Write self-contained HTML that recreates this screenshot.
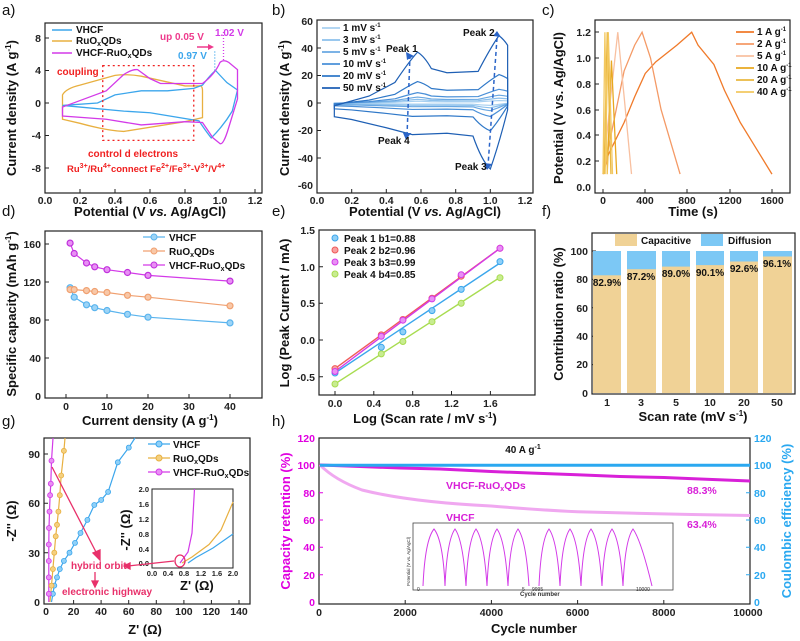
<!DOCTYPE html>
<html><head><meta charset="utf-8"><style>
body{margin:0;background:#fff}
svg{display:block;font-family:"Liberation Sans",Arial,sans-serif}
.t{font-size:10.5px;font-weight:bold;fill:#222}
.lab{font-size:13px;font-weight:bold;fill:#111}
.L{font-size:15px;fill:#111}
.lg{font-size:10px;font-weight:bold;fill:#111}
.box{fill:none;stroke:#222;stroke-width:1.2}
.ns{vector-effect:non-scaling-stroke;fill:none}
</style></head><body>
<svg width="800" height="641" viewBox="0 0 800 641">
<text class="L" x="2" y="15">a)</text><text class="L" x="272" y="15">b)</text><text class="L" x="542" y="15">c)</text>
<text class="L" x="2" y="216">d)</text><text class="L" x="272" y="216">e)</text><text class="L" x="542" y="216">f)</text>
<text class="L" x="2" y="426">g)</text><text class="L" x="272" y="426">h)</text>

<!-- ============ a ============ -->
<rect class="box" x="45" y="23" width="217" height="170"/>
<g stroke="#222" stroke-width="1">
<path d="M45 38h4M45 70.5h4M45 103h4M45 135.5h4M45 168h4M80 193v-4M115 193v-4M150 193v-4M185 193v-4M220 193v-4M255 193v-4"/></g>
<g class="t" text-anchor="end"><text x="41" y="42">8</text><text x="41" y="74">4</text><text x="41" y="107">0</text><text x="41" y="139">-4</text><text x="41" y="172">-8</text></g>
<g class="t" text-anchor="middle"><text x="45" y="204">0.0</text><text x="80" y="204">0.2</text><text x="115" y="204">0.4</text><text x="150" y="204">0.6</text><text x="185" y="204">0.8</text><text x="220" y="204">1.0</text><text x="255" y="204">1.2</text></g>
<text class="lab" x="150" y="216" text-anchor="middle">Potential (V <tspan font-style="italic">vs.</tspan> Ag/AgCl)</text>
<text class="lab" transform="translate(16,108) rotate(-90)" text-anchor="middle">Current density (A g<tspan dy="-5" font-size="8">-1</tspan><tspan dy="5">)</tspan></text>
<g transform="translate(45,103) scale(175,-8.125)" stroke-width="1.3">
<path class="ns" stroke="#e8b040" d="M0.1 -2 L0.1 1 Q0.12 1.8 0.2 2.2 L0.4 3.4 Q0.47 3.6 0.55 3.3 L0.8 2.1 L0.88 2.1 Q0.9 2.2 0.9 1.5 L0.9 -1.8 L0.8 -2.3 L0.45 -3.5 Q0.35 -3.4 0.2 -2.5 Z"/>
<path class="ns" stroke="#3ba6ec" d="M0.1 -0.3 L0.3 0 L0.4 1 L0.55 1.5 L0.7 1.5 L0.85 1.8 L0.9 2.2 Q0.95 3.6 0.975 4 Q1.0 3.4 1.04 2.5 L1.1 1.6 L1.07 -1 Q1.02 -2.8 0.95 -4.3 Q0.92 -3.5 0.88 -2.2 L0.6 -1.2 L0.45 -1.0 L0.2 -0.5 Z"/>
<path class="ns" stroke="#d33ae8" d="M0.1 -1.6 L0.1 -0.5 L0.2 0.3 L0.35 1.5 L0.45 3.5 Q0.5 4.2 0.53 4.1 L0.6 3 L0.66 2.4 L0.9 2.4 Q0.97 3.5 1.0 5 Q1.02 5.4 1.05 5 L1.1 4.1 L1.1 0.5 L1.05 -3 Q1.02 -5.2 1.0 -5 L0.96 -4.3 L0.9 -2.4 L0.8 -2.3 L0.55 -2.7 L0.35 -2 Z"/>
<path class="ns" stroke="#f02020" stroke-width="1.3" stroke-dasharray="2,3" d="M0.33 4.6 L0.85 4.6 L0.85 -4.6 L0.33 -4.6 Z"/>
<path class="ns" stroke="#3ba6ec" stroke-dasharray="1,2" d="M0.97 4 V6.5"/>
<path class="ns" stroke="#d33ae8" stroke-dasharray="1,2" d="M1.02 5.3 V9"/>
</g>
<path d="M197 47 L208 47" stroke="#ee3a8c" stroke-width="1.5"/><path d="M208 44 L214 47 L208 50Z" fill="#ee3a8c"/>
<g class="lg"><path d="M52 30h20" stroke="#3ba6ec" stroke-width="1.5"/><text x="76" y="33">VHCF</text>
<path d="M52 41h20" stroke="#e8b040" stroke-width="1.5"/><text x="76" y="44">RuO<tspan font-size="7" dy="2">x</tspan><tspan dy="-2">QDs</tspan></text>
<path d="M52 53h20" stroke="#d33ae8" stroke-width="1.5"/><text x="76" y="56">VHCF-RuO<tspan font-size="7" dy="2">x</tspan><tspan dy="-2">QDs</tspan></text></g>
<g font-size="10" font-weight="bold"><text x="160" y="40" fill="#ee3a8c">up 0.05 V</text><text x="215" y="36" fill="#d33ae8">1.02 V</text><text x="178" y="59" fill="#3ba6ec">0.97 V</text>
<text x="57" y="75" fill="#f02020">coupling</text><text x="88" y="157" fill="#f02020">control  d electrons</text>
<text x="67" y="172" fill="#f02020" font-size="9.5">Ru<tspan font-size="7" dy="-4">3+</tspan><tspan dy="4">/Ru</tspan><tspan font-size="7" dy="-4">4+</tspan><tspan dy="4">connect Fe</tspan><tspan font-size="7" dy="-4">2+</tspan><tspan dy="4">/Fe</tspan><tspan font-size="7" dy="-4">3+</tspan><tspan dy="4">-V</tspan><tspan font-size="7" dy="-4">3+</tspan><tspan dy="4">/V</tspan><tspan font-size="7" dy="-4">4+</tspan></text></g>

<!-- ============ b ============ -->
<rect class="box" x="317" y="20" width="216" height="173"/>
<g stroke="#222"><path d="M317 48h4M317 75.5h4M317 103h4M317 130.5h4M317 158h4M351.7 193v-4M386.3 193v-4M421 193v-4M455.7 193v-4M490.3 193v-4"/></g>
<g class="t" text-anchor="end"><text x="313" y="25">60</text><text x="313" y="52">40</text><text x="313" y="79">20</text><text x="313" y="107">0</text><text x="313" y="134">-20</text><text x="313" y="162">-40</text><text x="313" y="189">-60</text></g>
<g class="t" text-anchor="middle"><text x="317" y="204">0.0</text><text x="351.7" y="204">0.2</text><text x="386.3" y="204">0.4</text><text x="421" y="204">0.6</text><text x="455.7" y="204">0.8</text><text x="490.3" y="204">1.0</text><text x="525" y="204">1.2</text></g>
<text class="lab" x="425" y="216" text-anchor="middle">Potential (V <tspan font-style="italic">vs.</tspan> Ag/AgCl)</text>
<text class="lab" transform="translate(289,108) rotate(-90)" text-anchor="middle">Current density (A g<tspan dy="-5" font-size="8">-1</tspan><tspan dy="5">)</tspan></text>
<g stroke-width="1.2">
<g transform="translate(317,103) scale(173.3,-0.05)"><path class="ns" stroke="#a8d0f0" d="M0.1 -10 L0.1 -2 L0.3 5 L0.45 15 Q0.53 30 0.58 37 Q0.62 34 0.66 25 L0.75 22 L0.93 23 Q1.0 40 1.05 49 Q1.08 46 1.1 42 L1.1 -5 Q1.05 -30 1.0 -48 Q0.95 -42 0.9 -24 L0.75 -22 L0.55 -23 L0.4 -18 L0.2 -12 Z"/></g>
<g transform="translate(317,103) scale(173.3,-0.1)"><path class="ns" stroke="#8cc0ec" d="M0.1 -10 L0.1 -2 L0.3 5 L0.45 15 Q0.53 30 0.58 37 Q0.62 34 0.66 25 L0.75 22 L0.93 23 Q1.0 40 1.05 49 Q1.08 46 1.1 42 L1.1 -5 Q1.05 -30 1.0 -48 Q0.95 -42 0.9 -24 L0.75 -22 L0.55 -23 L0.4 -18 L0.2 -12 Z"/></g>
<g transform="translate(317,103) scale(173.3,-0.16)"><path class="ns" stroke="#6aa8e2" d="M0.1 -10 L0.1 -2 L0.3 5 L0.45 15 Q0.53 30 0.58 37 Q0.62 34 0.66 25 L0.75 22 L0.93 23 Q1.0 40 1.05 49 Q1.08 46 1.1 42 L1.1 -5 Q1.05 -30 1.0 -48 Q0.95 -42 0.9 -24 L0.75 -22 L0.55 -23 L0.4 -18 L0.2 -12 Z"/></g>
<g transform="translate(317,103) scale(173.3,-0.28)"><path class="ns" stroke="#4a90d8" d="M0.1 -10 L0.1 -2 L0.3 5 L0.45 15 Q0.53 30 0.58 37 Q0.62 34 0.66 25 L0.75 22 L0.93 23 Q1.0 40 1.05 49 Q1.08 46 1.1 42 L1.1 -5 Q1.05 -30 1.0 -48 Q0.95 -42 0.9 -24 L0.75 -22 L0.55 -23 L0.4 -18 L0.2 -12 Z"/></g>
<g transform="translate(317,103) scale(173.3,-0.58)"><path class="ns" stroke="#2f78c8" d="M0.1 -10 L0.1 -2 L0.3 5 L0.45 15 Q0.53 30 0.58 37 Q0.62 34 0.66 25 L0.75 22 L0.93 23 Q1.0 40 1.05 49 Q1.08 46 1.1 42 L1.1 -5 Q1.05 -30 1.0 -48 Q0.95 -42 0.9 -24 L0.75 -22 L0.55 -23 L0.4 -18 L0.2 -12 Z"/></g>
<g transform="translate(317,103) scale(173.3,-1.375)"><path class="ns" stroke="#1e5fb4" d="M0.1 -10 L0.1 -2 L0.3 5 L0.45 15 Q0.53 30 0.58 37 Q0.62 34 0.66 25 L0.75 22 L0.93 23 Q1.0 40 1.05 49 Q1.08 46 1.1 42 L1.1 -5 Q1.05 -30 1.0 -48 Q0.95 -42 0.9 -24 L0.75 -22 L0.55 -23 L0.4 -18 L0.2 -12 Z"/></g>
</g>
<g stroke="#2a64c8" stroke-width="1.5" stroke-dasharray="4,3" fill="none"><path d="M410 55 L407 136"/><path d="M497 38 L488 166"/></g>
<g fill="#2a64c8"><path d="M406 52 L414 56 L407 60Z"/><path d="M403 133 L411 133 L406 140Z"/><path d="M493 36 L501 37 L497 31Z"/><path d="M484 163 L492 164 L487 170Z"/></g>
<g class="lg" font-size="9.5"><text x="386" y="52">Peak 1</text><text x="463" y="36">Peak 2</text><text x="378" y="144">Peak 4</text><text x="455" y="170">Peak 3</text></g>
<g class="lg" font-size="9"><g stroke-width="1.8"><path d="M322 28h18" stroke="#a8d0f0"/><path d="M322 40h18" stroke="#8cc0ec"/><path d="M322 52h18" stroke="#6aa8e2"/><path d="M322 64h18" stroke="#4a90d8"/><path d="M322 76h18" stroke="#2f78c8"/><path d="M322 88h18" stroke="#1e5fb4"/></g>
<text x="343" y="31">1 mV s<tspan font-size="6" dy="-4">-1</tspan></text><text x="343" y="43">3 mV s<tspan font-size="6" dy="-4">-1</tspan></text><text x="343" y="55">5 mV s<tspan font-size="6" dy="-4">-1</tspan></text><text x="343" y="67">10 mV s<tspan font-size="6" dy="-4">-1</tspan></text><text x="343" y="79">20 mV s<tspan font-size="6" dy="-4">-1</tspan></text><text x="343" y="91">50 mV s<tspan font-size="6" dy="-4">-1</tspan></text></g>

<!-- ============ c ============ -->
<rect class="box" x="595" y="20" width="195" height="173"/>
<g stroke="#222"><path d="M595 161h4M595 135h4M595 110h4M595 84h4M595 58h4M595 32h4M603 193v-4M645 193v-4M687 193v-4M730 193v-4M772 193v-4"/></g>
<g class="t" text-anchor="end"><text x="591" y="191">0.0</text><text x="591" y="165">0.2</text><text x="591" y="139">0.4</text><text x="591" y="114">0.6</text><text x="591" y="88">0.8</text><text x="591" y="62">1.0</text><text x="591" y="36">1.2</text></g>
<g class="t" text-anchor="middle"><text x="603" y="204">0</text><text x="645" y="204">400</text><text x="687" y="204">800</text><text x="730" y="204">1200</text><text x="772" y="204">1600</text></g>
<text class="lab" x="693" y="216" text-anchor="middle">Time (s)</text>
<text class="lab" transform="translate(563,108) rotate(-90)" text-anchor="middle">Potential (V vs. Ag/AgCl)</text>
<g transform="translate(603,187) scale(0.1056,-129)" stroke-width="1.3">
<path class="ns" stroke="#f07a2a" d="M0 0.1 L50 0.25 L200 0.5 L300 0.7 L400 0.88 L500 0.97 L700 1.1 L840 1.2 L900 1.1 L1050 0.95 L1150 0.75 L1300 0.5 L1450 0.3 L1600 0.1"/>
<path class="ns" stroke="#f49a66" d="M0 0.1 L100 0.5 L200 0.9 L300 1.1 L370 1.2 L450 1.0 L550 0.6 L730 0.1"/>
<path class="ns" stroke="#f8c0a0" d="M0 0.1 L60 0.6 L140 1.2 L200 0.7 L270 0.1"/>
<path class="ns" stroke="#e8a820" d="M40 0.1 L80 0.98 L130 0.1"/>
<path class="ns" stroke="#eab840" d="M10 0.1 L40 1.2 L75 0.1"/>
<path class="ns" stroke="#f3c860" d="M0 0.1 L18 1.2 L40 0.1 M20 0.1 L50 1.2 L90 0.1"/>
</g>
<g class="lg" font-size="9"><g stroke-width="1.8"><path d="M736 32h18" stroke="#f07a2a"/><path d="M736 44h18" stroke="#f49a66"/><path d="M736 56h18" stroke="#f8c0a0"/><path d="M736 68h18" stroke="#e8a820"/><path d="M736 80h18" stroke="#eab840"/><path d="M736 92h18" stroke="#f3c860"/></g>
<text x="757" y="35">1 A g<tspan font-size="6" dy="-4">-1</tspan></text><text x="757" y="47">2 A g<tspan font-size="6" dy="-4">-1</tspan></text><text x="757" y="59">5 A g<tspan font-size="6" dy="-4">-1</tspan></text><text x="757" y="71">10 A g<tspan font-size="6" dy="-4">-1</tspan></text><text x="757" y="83">20 A g<tspan font-size="6" dy="-4">-1</tspan></text><text x="757" y="95">40 A g<tspan font-size="6" dy="-4">-1</tspan></text></g>

<!-- ============ d ============ -->
<rect class="box" x="45" y="231" width="217" height="167"/>
<g stroke="#222"><path d="M45 358h4M45 320h4M45 282h4M45 244h4M66 398v-4M107 398v-4M148 398v-4M189 398v-4M230 398v-4"/></g>
<g class="t" text-anchor="end"><text x="41" y="400">0</text><text x="41" y="362">40</text><text x="41" y="324">80</text><text x="41" y="286">120</text><text x="41" y="248">160</text></g>
<g class="t" text-anchor="middle"><text x="66" y="410">0</text><text x="107" y="410">10</text><text x="148" y="410">20</text><text x="189" y="410">30</text><text x="230" y="410">40</text></g>
<text class="lab" x="150" y="425" text-anchor="middle">Current density (A g<tspan dy="-5" font-size="8">-1</tspan><tspan dy="5">)</tspan></text>
<text class="lab" transform="translate(16,314) rotate(-90)" text-anchor="middle">Specific capacity (mAh g<tspan dy="-5" font-size="8">-1</tspan><tspan dy="5">)</tspan></text>
<g stroke-width="1.2">
<polyline fill="none" stroke="#5ab4ee" points="70.1,287.7 74.2,297.2 86.5,304.8 94.7,307.7 107,310.5 127.5,314.3 148,317.2 230,322.9"/>
<polyline fill="none" stroke="#f0a070" points="70.1,289.6 74.2,289.6 86.5,290.6 94.7,291.5 107,292.5 127.5,295.3 148,297.2 230,305.8"/>
<polyline fill="none" stroke="#d33ae8" points="70.1,243.1 74.2,253.5 86.5,263 94.7,266.8 107,269.7 127.5,272.5 148,275.4 230,281.1"/>
<g fill="#9dd4f6" stroke="#5ab4ee"><circle cx="70.1" cy="287.7" r="3"/><circle cx="74.2" cy="297.2" r="3"/><circle cx="86.5" cy="304.8" r="3"/><circle cx="94.7" cy="307.7" r="3"/><circle cx="107" cy="310.5" r="3"/><circle cx="127.5" cy="314.3" r="3"/><circle cx="148" cy="317.2" r="3"/><circle cx="230" cy="322.9" r="3"/></g>
<g fill="#f8c8a8" stroke="#f0a070"><circle cx="70.1" cy="289.6" r="3"/><circle cx="74.2" cy="289.6" r="3"/><circle cx="86.5" cy="290.6" r="3"/><circle cx="94.7" cy="291.5" r="3"/><circle cx="107" cy="292.5" r="3"/><circle cx="127.5" cy="295.3" r="3"/><circle cx="148" cy="297.2" r="3"/><circle cx="230" cy="305.8" r="3"/></g>
<g fill="#e890f4" stroke="#c030dc"><circle cx="70.1" cy="243.1" r="3"/><circle cx="74.2" cy="253.5" r="3"/><circle cx="86.5" cy="263" r="3"/><circle cx="94.7" cy="266.8" r="3"/><circle cx="107" cy="269.7" r="3"/><circle cx="127.5" cy="272.5" r="3"/><circle cx="148" cy="275.4" r="3"/><circle cx="230" cy="281.1" r="3"/></g>
</g>
<g class="lg"><path d="M143 237h22" stroke="#5ab4ee" stroke-width="1.3"/><circle cx="154" cy="237" r="3" fill="#9dd4f6" stroke="#5ab4ee"/><text x="169" y="241">VHCF</text>
<path d="M143 251h22" stroke="#f0a070" stroke-width="1.3"/><circle cx="154" cy="251" r="3" fill="#f8c8a8" stroke="#f0a070"/><text x="169" y="255">RuO<tspan font-size="7" dy="2">x</tspan><tspan dy="-2">QDs</tspan></text>
<path d="M143 265h22" stroke="#d33ae8" stroke-width="1.3"/><circle cx="154" cy="265" r="3" fill="#e890f4" stroke="#c030dc"/><text x="169" y="269">VHCF-RuO<tspan font-size="7" dy="2">x</tspan><tspan dy="-2">QDs</tspan></text></g>

<!-- ============ e ============ -->
<rect class="box" x="319" y="230" width="216" height="165"/>
<g stroke="#222"><path d="M319 266.7h4M319 303.3h4M319 340h4M319 376.7h4M335 395v-4M373.8 395v-4M412.7 395v-4M451.5 395v-4M490.4 395v-4"/></g>
<g class="t" text-anchor="end"><text x="315" y="234">1.5</text><text x="315" y="271">1.0</text><text x="315" y="307">0.5</text><text x="315" y="344">0.0</text><text x="315" y="381">-0.5</text></g>
<g class="t" text-anchor="middle"><text x="335" y="407">0.0</text><text x="373.8" y="407">0.4</text><text x="412.7" y="407">0.8</text><text x="451.5" y="407">1.2</text><text x="490.4" y="407">1.6</text></g>
<text class="lab" x="425" y="423" text-anchor="middle">Log (Scan rate / mV s<tspan dy="-5" font-size="8">-1</tspan><tspan dy="5">)</tspan></text>
<text class="lab" transform="translate(289,313) rotate(-90)" text-anchor="middle">Log (Peak Current / mA)</text>
<g stroke-width="1.4">
<path d="M335 373 L500 263" stroke="#3ba6ec"/>
<path d="M335 368.6 L500 248.3" stroke="#f05a5a"/>
<path d="M335 371.5 L500 248.3" stroke="#d33ae8"/>
<path d="M335 383.9 L500 277.4" stroke="#a8dc50"/>
</g>
<g stroke-width="1"><g fill="#8fd0f8" stroke="#3ba6ec"><circle cx="335" cy="373" r="3"/><circle cx="381.3" cy="347.3" r="3"/><circle cx="402.9" cy="331.9" r="3"/><circle cx="432" cy="310.6" r="3"/><circle cx="461.2" cy="289.4" r="3"/><circle cx="500" cy="261.6" r="3"/></g>
<g fill="#f8a0a0" stroke="#f05a5a"><circle cx="335" cy="368.6" r="3"/><circle cx="381.3" cy="334.9" r="3"/><circle cx="402.9" cy="319.5" r="3"/><circle cx="432" cy="298.2" r="3"/><circle cx="461.2" cy="276.2" r="3"/><circle cx="500" cy="248.3" r="3"/></g>
<g fill="#e890f4" stroke="#d33ae8"><circle cx="335" cy="371.5" r="3"/><circle cx="381.3" cy="336.3" r="3"/><circle cx="402.9" cy="320.2" r="3"/><circle cx="432" cy="298.9" r="3"/><circle cx="461.2" cy="274.7" r="3"/><circle cx="500" cy="248.3" r="3"/></g>
<g fill="#c8ec90" stroke="#a8dc50"><circle cx="335" cy="384" r="3"/><circle cx="381.3" cy="353.9" r="3"/><circle cx="402.9" cy="341.5" r="3"/><circle cx="432" cy="321.7" r="3"/><circle cx="461.2" cy="303.3" r="3"/><circle cx="500" cy="277.7" r="3"/></g></g>
<g class="lg" font-size="9.5"><circle cx="335" cy="238" r="3" fill="#8fd0f8" stroke="#3ba6ec"/><text x="344" y="242">Peak 1 b1=0.88</text>
<circle cx="335" cy="250" r="3" fill="#f8a0a0" stroke="#f05a5a"/><text x="344" y="254">Peak 2 b2=0.96</text>
<circle cx="335" cy="262" r="3" fill="#e890f4" stroke="#d33ae8"/><text x="344" y="266">Peak 3 b3=0.99</text>
<circle cx="335" cy="274" r="3" fill="#c8ec90" stroke="#a8dc50"/><text x="344" y="278">Peak 4 b4=0.85</text></g>

<!-- ============ f ============ -->
<rect class="box" x="592" y="233" width="203" height="161"/>
<g stroke="#222"><path d="M592 364.6h4M592 336.2h4M592 307.8h4M592 279.4h4M592 251h4"/></g>
<g class="t" text-anchor="end"><text x="588" y="397">0</text><text x="588" y="368">20</text><text x="588" y="340">40</text><text x="588" y="312">60</text><text x="588" y="283">80</text><text x="588" y="255">100</text></g>
<g class="t" text-anchor="middle"><text x="607" y="406">1</text><text x="641" y="406">3</text><text x="676" y="406">5</text><text x="710" y="406">10</text><text x="744" y="406">20</text><text x="777" y="406">50</text></g>
<text class="lab" x="693" y="421" text-anchor="middle">Scan rate (mV s<tspan dy="-5" font-size="8">-1</tspan><tspan dy="5">)</tspan></text>
<text class="lab" transform="translate(563,314) rotate(-90)" text-anchor="middle">Contribution ratio (%)</text>
<g fill="#7cc8f5"><rect x="593" y="251" width="28" height="142"/><rect x="627" y="251" width="29" height="142"/><rect x="662" y="251" width="28" height="142"/><rect x="696" y="251" width="28" height="142"/><rect x="730" y="251" width="28" height="142"/><rect x="763" y="251" width="29" height="142"/></g>
<g fill="#f0d296"><rect x="593" y="275.3" width="28" height="117.7"/><rect x="627" y="269.2" width="29" height="123.8"/><rect x="662" y="266.6" width="28" height="126.4"/><rect x="696" y="265.1" width="28" height="127.9"/><rect x="730" y="261.5" width="28" height="131.5"/><rect x="763" y="256.5" width="29" height="136.5"/></g>
<g class="lg" font-size="9.5" text-anchor="middle"><text x="607" y="286">82.9%</text><text x="641" y="280">87.2%</text><text x="676" y="277">89.0%</text><text x="710" y="276">90.1%</text><text x="744" y="272">92.6%</text><text x="777" y="267">96.1%</text></g>
<rect x="615" y="234" width="22" height="12" fill="#f0d296"/><text class="lg" x="641" y="244">Capacitive</text>
<rect x="701" y="234" width="22" height="12" fill="#7cc8f5"/><text class="lg" x="728" y="244">Diffusion</text>

<!-- ============ g ============ -->
<rect class="box" x="44" y="438" width="206" height="166"/>
<g stroke="#222"><path d="M44 552.7h4M44 503.3h4M44 454h4M73.6 604v-4M101.1 604v-4M128.7 604v-4M156.3 604v-4M183.9 604v-4M211.4 604v-4M239 604v-4"/></g>
<g class="t" text-anchor="end"><text x="40" y="606">0</text><text x="40" y="557">30</text><text x="40" y="507">60</text><text x="40" y="458">90</text></g>
<g class="t" text-anchor="middle"><text x="46" y="615">0</text><text x="73.6" y="615">20</text><text x="101.1" y="615">40</text><text x="128.7" y="615">60</text><text x="156.3" y="615">80</text><text x="183.9" y="615">100</text><text x="211.4" y="615">120</text><text x="239" y="615">140</text></g>
<text class="lab" x="145" y="634" text-anchor="middle">Z' (Ω)</text>
<text class="lab" transform="translate(16,521) rotate(-90)" text-anchor="middle">-Z'' (Ω)</text>
<g fill="none" stroke-width="1.2">
<polyline stroke="#3ba6ec" points="51.5,602 52.9,593.8 54.3,585.6 57,577.4 59.8,569.1 63.9,560.9 69.5,552.7 75,542.9 80.5,533 87.4,519.9 94.3,505 101.2,500 108.1,491.9 117.8,462.3 128.8,447.6 135,438"/>
<polyline stroke="#e8b040" points="50,602 51.5,585.6 52.9,569.1 54.3,552.7 55.7,536.3 57,524.8 58.4,511.6 59.8,495.2 61.2,475.5 63.9,450.8 65,438"/>
<polyline stroke="#d33ae8" points="48.8,602 48.8,593.8 48.8,577.4 48.8,561 48.8,544.5 49,528 49.5,511.6 50.1,495.2 50.8,483.7 51.5,460.7 53,438"/>
</g>
<g stroke-width="0.8"><g fill="#8fd0f8" stroke="#3ba6ec"><circle cx="52.9" cy="593.8" r="2.5"/><circle cx="54.3" cy="585.6" r="2.5"/><circle cx="57" cy="577.4" r="2.5"/><circle cx="59.8" cy="569.1" r="2.5"/><circle cx="63.9" cy="560.9" r="2.5"/><circle cx="69.5" cy="552.7" r="2.5"/><circle cx="75" cy="542.9" r="2.5"/><circle cx="80.5" cy="533" r="2.5"/><circle cx="87.4" cy="519.9" r="2.5"/><circle cx="94.3" cy="505" r="2.5"/><circle cx="101.2" cy="500" r="2.5"/><circle cx="108.1" cy="491.9" r="2.5"/><circle cx="117.8" cy="462.3" r="2.5"/><circle cx="128.8" cy="447.6" r="2.5"/></g>
<g fill="#f4d080" stroke="#e8b040"><circle cx="51.5" cy="585.6" r="2.5"/><circle cx="52.9" cy="569.1" r="2.5"/><circle cx="54.3" cy="552.7" r="2.5"/><circle cx="55.7" cy="536.3" r="2.5"/><circle cx="57" cy="524.8" r="2.5"/><circle cx="58.4" cy="511.6" r="2.5"/><circle cx="59.8" cy="495.2" r="2.5"/><circle cx="61.2" cy="475.5" r="2.5"/><circle cx="63.9" cy="450.8" r="2.5"/></g>
<g fill="#e890f4" stroke="#d33ae8"><circle cx="48.8" cy="593.8" r="2.5"/><circle cx="48.8" cy="577.4" r="2.5"/><circle cx="48.8" cy="561" r="2.5"/><circle cx="48.8" cy="544.5" r="2.5"/><circle cx="49" cy="528" r="2.5"/><circle cx="49.5" cy="511.6" r="2.5"/><circle cx="50.1" cy="495.2" r="2.5"/><circle cx="50.8" cy="483.7" r="2.5"/><circle cx="51.5" cy="460.7" r="2.5"/></g></g>
<g class="lg"><path d="M148 444h22" stroke="#3ba6ec" stroke-width="1.3"/><circle cx="159" cy="444" r="3" fill="#8fd0f8" stroke="#3ba6ec"/><text x="173" y="448">VHCF</text>
<path d="M148 458h22" stroke="#e8b040" stroke-width="1.3"/><circle cx="159" cy="458" r="3" fill="#f4d080" stroke="#e8b040"/><text x="173" y="462">RuO<tspan font-size="7" dy="2">x</tspan><tspan dy="-2">QDs</tspan></text>
<path d="M148 472h22" stroke="#d33ae8" stroke-width="1.3"/><circle cx="159" cy="472" r="3" fill="#e890f4" stroke="#d33ae8"/><text x="173" y="476">VHCF-RuO<tspan font-size="7" dy="2">x</tspan><tspan dy="-2">QDs</tspan></text></g>
<rect x="152" y="489" width="81" height="79" fill="#fff" stroke="#222" stroke-width="1"/>
<g font-size="7.5" font-weight="bold" fill="#222"><g text-anchor="end"><text x="149" y="492">2.0</text><text x="149" y="507">1.6</text><text x="149" y="522">1.2</text><text x="149" y="537">0.8</text><text x="149" y="552">0.4</text><text x="149" y="566">0.0</text></g>
<g text-anchor="middle"><text x="152" y="576">0.0</text><text x="168" y="576">0.4</text><text x="184" y="576">0.8</text><text x="201" y="576">1.2</text><text x="217" y="576">1.6</text><text x="233" y="576">2.0</text></g></g>
<text class="lab" font-size="11" x="180" y="590">Z' (Ω)</text>
<text class="lab" font-size="11" transform="translate(130,530) rotate(-90)" text-anchor="middle">-Z'' (Ω)</text>
<g fill="none" stroke-width="1.2"><polyline stroke="#d33ae8" points="180,563 188,552 192,533 194.5,489"/>
<polyline stroke="#e8b040" points="182,563 192,557 209,544.5 221,530 233,502"/>
<polyline stroke="#3ba6ec" points="188,563 196,557.5 213,548 233,534"/></g>
<ellipse cx="180" cy="561" rx="5" ry="6" fill="none" stroke="#e8306a" stroke-width="1.3"/>
<g stroke="#e8306a" stroke-width="1.3" fill="#e8306a"><path d="M52 467 L97 554"/><path d="M93 553 L100 560 L100 550Z"/><path d="M128 566 L174 561"/><path d="M130 563 L124 566 L130 569Z"/><path d="M95 572 V582"/><path d="M92 581 L95 587 L98 581Z"/></g>
<g font-size="10" font-weight="bold" fill="#e8306a"><text x="71" y="569">hybrid orbit</text><text x="62" y="595">electronic highway</text></g>

<!-- ============ h ============ -->
<rect class="box" x="319" y="438" width="431" height="166"/>
<g stroke="#222"><path d="M405.2 604v-4M491.4 604v-4M577.6 604v-4M663.8 604v-4"/></g>
<g stroke="#e000e0"><path d="M319 574.7h4M319 547.3h4M319 520h4M319 492.7h4M319 465.3h4"/></g>
<g stroke="#2aa8f0"><path d="M750 574.7h-4M750 547.3h-4M750 520h-4M750 492.7h-4M750 465.3h-4"/></g>
<g class="t" text-anchor="end" style="fill:#e000e0"><text x="315" y="606">0</text><text x="315" y="579">20</text><text x="315" y="551">40</text><text x="315" y="524">60</text><text x="315" y="497">80</text><text x="315" y="469">100</text><text x="315" y="442">120</text></g>
<g class="t" style="fill:#2aa8f0"><text x="754" y="606">0</text><text x="754" y="579">20</text><text x="754" y="551">40</text><text x="754" y="524">60</text><text x="754" y="497">80</text><text x="754" y="469">100</text><text x="754" y="442">120</text></g>
<g class="t" text-anchor="middle"><text x="319" y="616">0</text><text x="405.2" y="616">2000</text><text x="491.4" y="616">4000</text><text x="577.6" y="616">6000</text><text x="663.8" y="616">8000</text><text x="748" y="616">10000</text></g>
<text class="lab" font-size="14" x="534" y="633" text-anchor="middle">Cycle number</text>
<text class="lab" font-size="14" transform="translate(290,521) rotate(-90)" text-anchor="middle" style="fill:#e000e0">Capacity retention  (%)</text>
<text class="lab" font-size="14" transform="translate(791,521) rotate(-90)" text-anchor="middle" style="fill:#2aa8f0">Coulombic efficiency (%)</text>
<path d="M320 465 Q335 480 362 490 Q410 502 491 506 Q540 510 577.6 511.8 Q660 514 750 515.5" fill="none" stroke="#f0a8f0" stroke-width="3"/>
<polyline fill="none" stroke="#d820d8" stroke-width="3" points="320,465 360,466.5 400,468 440,469 491,471.5 530,473 577,474.8 620,476.5 664,477.5 700,479 750,481"/>
<path d="M320 465.3 H750" stroke="#2aa8f0" stroke-width="3"/>
<text class="lg" x="523" y="453" font-size="10.5" text-anchor="middle">40 A g<tspan font-size="7" dy="-4">-1</tspan></text>
<g font-size="10.5" font-weight="bold" fill="#d820d8"><text x="446" y="489">VHCF-RuO<tspan font-size="7" dy="2">x</tspan><tspan dy="-2">QDs</tspan></text><text x="687" y="494">88.3%</text><text x="446" y="521">VHCF</text><text x="687" y="528">63.4%</text></g>
<rect x="413" y="523" width="260" height="67" fill="#fff" stroke="#444" stroke-width="0.8"/>
<path d="M423 586 Q425 540 434 529 Q443 540 445 586 Q447 540 455 529 Q463 540 466 586 Q468 540 476 529 Q484 540 487 586 Q489 540 497 529 Q505 540 508 586 Q510 540 518 529 Q526 540 529 586 M539 586 Q541 540 549 529 Q557 540 560 586 Q562 540 570 529 Q578 540 581 586 Q583 540 591 529 Q599 540 602 586 Q604 540 612 529 Q620 540 623 586 Q625 540 633 529 Q641 540 652 586" fill="none" stroke="#d33ae8" stroke-width="1"/>
<g font-size="5" fill="#333"><text x="417" y="591">0</text><text x="522" y="591">5</text><text x="532" y="591">9995</text><text x="636" y="591">10000</text><text x="520" y="596" font-size="6" font-weight="bold">Cycle number</text>
<text transform="translate(410,586) rotate(-90)" font-size="4.5">Potential (V vs. Ag/AgCl)</text></g>
</svg>
</body></html>
